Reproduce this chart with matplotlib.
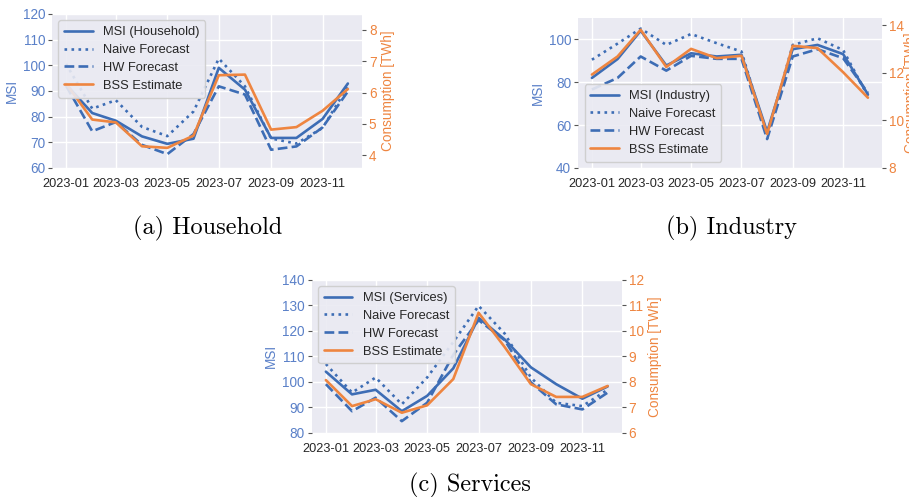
import numpy as np
import pandas as pd
import matplotlib
matplotlib.use('Agg')
import matplotlib.pyplot as plt
import matplotlib.dates as mdates
import seaborn as sns

sns.set_theme(style='darkgrid')
plt.rcParams['font.family'] = ['Liberation Sans', 'DejaVu Sans']

months = pd.date_range('2023-01-01', periods=12, freq='MS')

# Household
hh_msi = [92.5, 81.4, 78.4, 72.3, 69.4, 71.4, 99.0, 90.5, 71.7, 71.7, 79.1, 92.9]
hh_naive = [100.5, 83.1, 86.4, 76.0, 72.4, 82.0, 102.6, 91.8, 71.5, 69.5, 75.6, 91.8]
hh_hw = [92.0, 74.3, 77.9, 69.0, 65.4, 73.2, 91.8, 88.6, 67.1, 68.4, 75.8, 89.8]
hh_bss = [6.28, 5.14, 5.05, 4.29, 4.24, 4.63, 6.55, 6.57, 4.82, 4.90, 5.42, 6.11]

# Industry
ind_msi = [82.0, 90.8, 104.0, 87.8, 93.5, 92.0, 92.8, 56.9, 95.4, 97.4, 93.1, 74.3]
ind_naive = [90.5, 98.0, 105.0, 97.4, 102.5, 98.2, 94.3, 55.0, 97.4, 100.5, 95.0, 73.5]
ind_hw = [76.6, 82.0, 92.0, 85.4, 92.3, 90.9, 90.9, 53.5, 92.0, 95.4, 91.2, 75.0]
ind_bss = [11.92, 12.68, 13.80, 12.24, 13.00, 12.61, 12.71, 9.43, 13.13, 13.03, 12.02, 10.95]

# Services
srv_msi = [104.0, 95.1, 96.9, 88.5, 94.5, 105.3, 125.1, 116.6, 105.7, 99.1, 93.4, 98.2]
srv_naive = [107.0, 95.8, 101.7, 91.2, 101.7, 115.6, 129.8, 118.9, 101.7, 91.8, 90.5, 96.9]
srv_hw = [99.1, 88.5, 93.8, 84.6, 91.8, 110.6, 124.2, 116.3, 99.8, 91.2, 89.2, 95.8]
srv_bss = [8.07, 7.05, 7.32, 6.79, 7.08, 8.11, 10.71, 9.36, 7.91, 7.41, 7.41, 7.84]

blue = '#3d6db5'
orange = '#ee8540'
tick_blue = '#5a80c8'
fs_y = 9.8
fs_x = 9.2
fs_leg = 9.3

fig = plt.figure(figsize=(9.09, 4.97), dpi=100)


def panel(rect, msi, naive, hw, bss, name, ylim, ylim2, yticks, yticks2, loc, pad2=3):
    ax = fig.add_axes(rect)
    l1, = ax.plot(months, msi, color=blue, lw=1.9, label=f'MSI ({name})')
    l2, = ax.plot(months, naive, color=blue, lw=1.9, ls=':', label='Naive Forecast')
    l3, = ax.plot(months, hw, color=blue, lw=1.9, ls='--', label='HW Forecast')
    ax2 = ax.twinx()
    l4, = ax2.plot(months, bss, color=orange, lw=1.9, label='BSS Estimate')
    ax2.grid(False)
    ax.set_ylim(*ylim)
    ax2.set_ylim(*ylim2)
    ax.set_yticks(yticks)
    ax2.set_yticks(yticks2)
    ax.xaxis.set_major_locator(mdates.MonthLocator(bymonth=[1, 3, 5, 7, 9, 11]))
    ax.xaxis.set_major_formatter(mdates.DateFormatter('%Y-%m'))
    ax.tick_params(axis='x', labelsize=fs_x, colors='#262626', pad=1)
    ax.tick_params(axis='y', labelsize=fs_y, labelcolor=tick_blue, left=True,
                   length=3, width=0.8, color='#555555', pad=2)
    ax2.tick_params(axis='y', labelsize=fs_y, labelcolor=orange, right=True,
                    length=3, width=0.8, color='#555555', pad=2)
    ax.set_ylabel('MSI', color=tick_blue, fontsize=fs_y, labelpad=3)
    ax2.set_ylabel('Consumption [TWh]', color=orange, fontsize=fs_y, labelpad=pad2)
    for s in list(ax.spines.values()) + list(ax2.spines.values()):
        s.set_visible(False)
    handles = [l1, l2, l3, l4]
    ax2.legend(handles, [h.get_label() for h in handles],
               loc=loc, fontsize=fs_leg, frameon=True, facecolor='#eaeaf2',
               edgecolor='#cccccc', framealpha=0.9, handlelength=2.2,
               labelspacing=0.45, borderpad=0.45)
    return ax


panel([0.0572, 0.662, 0.341, 0.310], hh_msi, hh_naive, hh_hw, hh_bss, 'Household',
      (60, 120), (3.6, 8.5), np.arange(60, 121, 10), np.arange(4, 9, 1), 'upper left')
panel([0.636, 0.662, 0.334, 0.302], ind_msi, ind_naive, ind_hw, ind_bss, 'Industry',
      (40, 110), (8, 14.3), np.arange(40, 101, 20), np.arange(8, 15, 2), 'lower left',
      pad2=0)
panel([0.343, 0.129, 0.341, 0.308], srv_msi, srv_naive, srv_hw, srv_bss, 'Services',
      (80, 140), (6, 12), np.arange(80, 141, 10), np.arange(6, 13, 1), 'upper left')

cap = dict(fontsize=17.5, family='cmr10', ha='center', va='center', color='black')
fig.text(208 / 909, 1 - 228 / 497, '(a) Household', **cap)
fig.text(732 / 909, 1 - 228 / 497, '(b) Industry', **cap)
fig.text(470 / 909, 1 - 485 / 497, '(c) Services', **cap)

fig.savefig('out.png', dpi=100)
